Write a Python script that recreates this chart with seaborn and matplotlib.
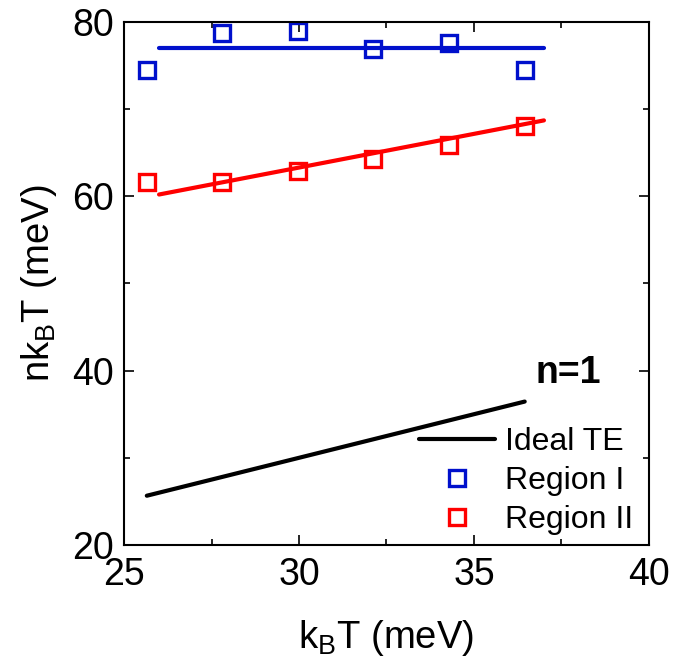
import matplotlib
matplotlib.use("Agg")
import matplotlib.pyplot as plt
import seaborn as sns
import numpy as np

sns.set_style("ticks")
plt.rcParams['font.family'] = ['Liberation Sans', 'DejaVu Sans']
plt.rcParams['mathtext.fontset'] = 'custom'
plt.rcParams['mathtext.rm'] = 'Liberation Sans'
plt.rcParams['mathtext.it'] = 'Liberation Sans'
plt.rcParams['text.color'] = 'black'
plt.rcParams['axes.labelcolor'] = 'black'
plt.rcParams['xtick.color'] = 'black'
plt.rcParams['ytick.color'] = 'black'
plt.rcParams['axes.edgecolor'] = 'black'

# data
kT = [25.65, 27.8, 29.98, 32.12, 34.3, 36.45]
region1 = [74.5, 78.7, 78.9, 76.9, 77.6, 74.5]
region2 = [61.6, 61.6, 62.9, 64.3, 65.9, 68.1]
fit_x = [26.0, 37.0]
fit1_y = [77.0, 77.0]
fit2_y = [60.2, 68.7]
ideal_x = [25.65, 36.45]
ideal_y = [25.65, 36.45]

blue = "#0010CC"
red = "#FF0000"

fig = plt.figure(figsize=(6.97, 6.63), dpi=100)
ax = fig.add_axes([0.178, 0.178, 0.753, 0.789])

sns.lineplot(x=fit_x, y=fit1_y, ax=ax, color=blue, lw=3, legend=False)
sns.lineplot(x=fit_x, y=fit2_y, ax=ax, color=red, lw=3, legend=False)
sns.lineplot(x=ideal_x, y=ideal_y, ax=ax, color="black", lw=3, label="Ideal TE")
sns.lineplot(x=kT, y=region1, ax=ax, linestyle="none", marker="s", markersize=12,
             markerfacecolor="none", markeredgecolor=blue, markeredgewidth=2.4,
             color=blue, label="Region I")
sns.lineplot(x=kT, y=region2, ax=ax, linestyle="none", marker="s", markersize=12,
             markerfacecolor="none", markeredgecolor=red, markeredgewidth=2.4,
             color=red, label="Region II")

ax.set_xlim(25, 40)
ax.set_ylim(20, 80)
ax.set_xticks([25, 30, 35, 40])
ax.set_xticks([27.5, 32.5, 37.5], minor=True)
ax.set_yticks([20, 40, 60, 80])
ax.set_yticks([30, 50, 70], minor=True)
ax.tick_params(which="both", direction="in", top=True, right=True, width=1.2)
ax.tick_params(which="major", length=7, labelsize=27)
ax.tick_params(axis="y", which="major", pad=7)
ax.tick_params(axis="x", which="major", pad=9)
ax.tick_params(which="minor", length=4)
for s in ax.spines.values():
    s.set_linewidth(1.5)
    s.set_visible(True)

ax.set_xlabel(r"k$_\mathregular{B}$T (meV)", fontsize=27.5, labelpad=18)
ax.set_ylabel(r"nk$_\mathregular{B}$T (meV)", fontsize=27.5, labelpad=10)

ax.text(37.7, 39.75, "n=1", fontsize=27, fontweight="bold", ha="center", va="center")

ax.legend(loc="lower right", frameon=False, fontsize=23, handlelength=2.4,
          handletextpad=0.3, labelspacing=0.28, borderaxespad=0.1,
          bbox_to_anchor=(1.0, -0.012))

fig.savefig("out.png", dpi=100)
